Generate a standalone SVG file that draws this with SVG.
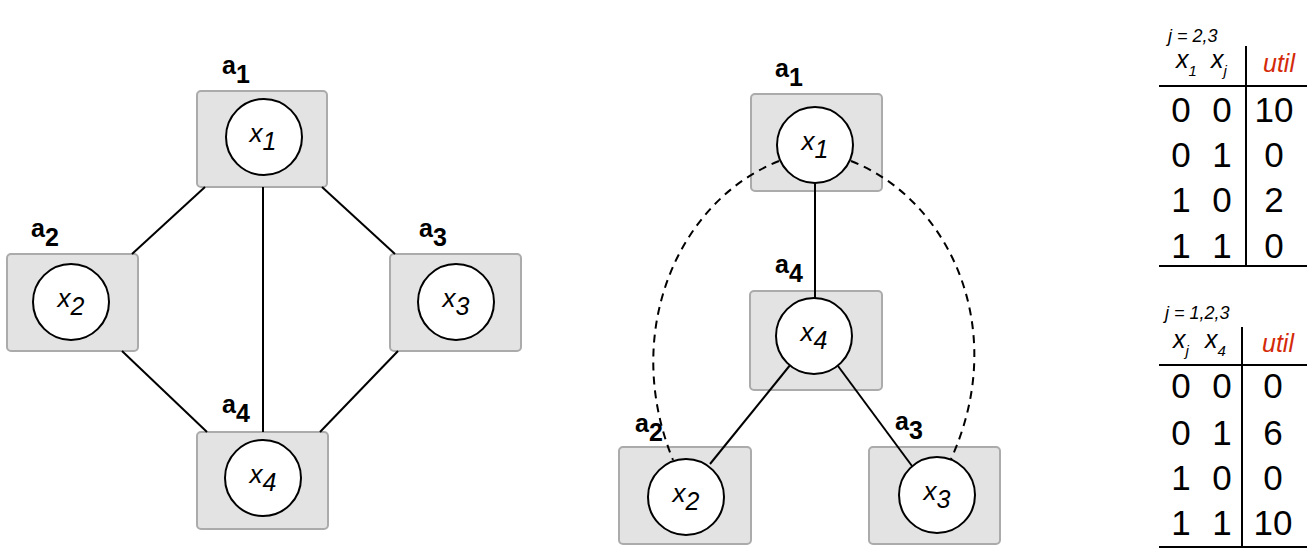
<svg xmlns="http://www.w3.org/2000/svg" width="1311" height="555" viewBox="0 0 1311 555">
<style>
.box{fill:#e3e3e3;stroke:#ababab;stroke-width:2}
.var{fill:#fff;stroke:#000;stroke-width:2}
.vt{font-family:"Liberation Sans",Arial,sans-serif;font-style:italic;font-size:26px;text-anchor:middle}
.vt tspan{font-size:25px}
.lbl{font-family:"Liberation Sans",Arial,sans-serif;font-weight:bold;font-size:25px}
.e{stroke:#000;stroke-width:2;fill:none}
.d{stroke:#000;stroke-width:2;fill:none;stroke-dasharray:8,6}
.tl{stroke:#000;stroke-width:2}
.hd{font-family:"Liberation Sans",Arial,sans-serif;font-style:italic;font-size:25px}
.hd tspan{font-size:15px}
.ju{font-family:"Liberation Sans",Arial,sans-serif;font-style:italic;font-size:18px}
.ut{font-family:"Liberation Sans",Arial,sans-serif;font-style:italic;font-size:25px;fill:#d42a0a}
.dg{font-family:"Liberation Sans",Arial,sans-serif;font-size:35px;text-anchor:middle}
</style>
<g id="L_a1">
<rect class="box" x="197" y="91" width="130" height="96" rx="4"/>
<circle class="var" cx="264" cy="137" r="38"/>
<text class="vt" x="263" y="142">x<tspan dy="8">1</tspan></text>
<text class="lbl" x="222" y="74">a<tspan dy="9">1</tspan></text>
</g>
<g id="L_a2">
<rect class="box" x="7" y="254" width="131" height="97" rx="4"/>
<circle class="var" cx="71" cy="302" r="38"/>
<text class="vt" x="71" y="307">x<tspan dy="8">2</tspan></text>
<text class="lbl" x="31" y="237">a<tspan dy="9">2</tspan></text>
</g>
<g id="L_a3">
<rect class="box" x="390" y="254" width="131" height="97" rx="4"/>
<circle class="var" cx="456" cy="302" r="38"/>
<text class="vt" x="456" y="307">x<tspan dy="8">3</tspan></text>
<text class="lbl" x="419" y="237">a<tspan dy="9">3</tspan></text>
</g>
<g id="L_a4">
<rect class="box" x="197" y="432" width="131" height="97" rx="4"/>
<circle class="var" cx="263" cy="478" r="38"/>
<text class="vt" x="263" y="483">x<tspan dy="8">4</tspan></text>
<text class="lbl" x="222" y="413">a<tspan dy="9">4</tspan></text>
</g>
<g id="R_a1">
<rect class="box" x="751" y="94" width="131" height="97" rx="4"/>
<text class="lbl" x="775" y="77">a<tspan dy="9">1</tspan></text>
</g>
<g id="R_a4">
<rect class="box" x="750" y="291" width="132" height="99" rx="4"/>
<text class="lbl" x="775" y="273">a<tspan dy="9">4</tspan></text>
</g>
<g id="R_a2">
<rect class="box" x="619" y="447" width="132" height="97" rx="4"/>
<text class="lbl" x="635" y="432">a<tspan dy="9">2</tspan></text>
</g>
<g id="R_a3">
<rect class="box" x="869" y="447" width="131" height="97" rx="4"/>
<text class="lbl" x="895" y="430">a<tspan dy="9">3</tspan></text>
</g>
<g id="connectors">
<line class="e" x1="205" y1="187" x2="132" y2="254"/>
<line class="e" x1="322" y1="187" x2="395" y2="254"/>
<line class="e" x1="263" y1="187" x2="263" y2="432"/>
<line class="e" x1="122" y1="351" x2="207" y2="432"/>
<line class="e" x1="398" y1="351" x2="320" y2="432"/>
<line class="e" x1="815" y1="183" x2="815" y2="298"/>
<line class="e" x1="791" y1="364" x2="710" y2="464"/>
<line class="e" x1="838" y1="366" x2="912" y2="466"/>
<path class="d" d="M779,161 C680,200 620,330 673,460"/>
<path class="d" d="M851,161 C950,200 1010,330 951,459"/>
</g>
<g id="R_vars">
<g id="R_x1"><circle class="var" cx="815" cy="145" r="38"/>
<text class="vt" x="815" y="150">x<tspan dy="8">1</tspan></text></g>
<g id="R_x4"><circle class="var" cx="814" cy="336" r="38"/>
<text class="vt" x="814" y="341">x<tspan dy="8">4</tspan></text></g>
<g id="R_x2"><circle class="var" cx="686" cy="497" r="38"/>
<text class="vt" x="686" y="502">x<tspan dy="8">2</tspan></text></g>
<g id="R_x3"><circle class="var" cx="937" cy="495" r="38"/>
<text class="vt" x="937" y="500">x<tspan dy="8">3</tspan></text></g>
</g>
<g id="table1">
<text class="ju" x="1168" y="42">j = 2,3</text>
<text class="hd" x="1176" y="68">x<tspan dy="8">1</tspan></text>
<text class="hd" x="1211" y="68">x<tspan dy="8">j</tspan></text>
<text class="ut" x="1263" y="72">util</text>
<line class="tl" x1="1159" y1="86" x2="1307" y2="86"/>
<line class="tl" x1="1246" y1="46" x2="1246" y2="266"/>
<line class="tl" x1="1159" y1="266" x2="1307" y2="266"/>
<text class="dg" x="1181" y="122">0</text><text class="dg" x="1222" y="122">0</text><text class="dg" x="1274" y="122">10</text>
<text class="dg" x="1181" y="167">0</text><text class="dg" x="1222" y="167">1</text><text class="dg" x="1274" y="167">0</text>
<text class="dg" x="1181" y="212">1</text><text class="dg" x="1222" y="212">0</text><text class="dg" x="1274" y="212">2</text>
<text class="dg" x="1181" y="258">1</text><text class="dg" x="1222" y="258">1</text><text class="dg" x="1274" y="258">0</text>
</g>
<g id="table2">
<text class="ju" x="1165" y="319">j = 1,2,3</text>
<text class="hd" x="1173" y="348">x<tspan dy="8">j</tspan></text>
<text class="hd" x="1205" y="348">x<tspan dy="8">4</tspan></text>
<text class="ut" x="1262" y="352">util</text>
<line class="tl" x1="1159" y1="365" x2="1307" y2="365"/>
<line class="tl" x1="1242" y1="327" x2="1242" y2="547"/>
<line class="tl" x1="1159" y1="547" x2="1307" y2="547"/>
<text class="dg" x="1181" y="398">0</text><text class="dg" x="1222" y="398">0</text><text class="dg" x="1273" y="398">0</text>
<text class="dg" x="1181" y="445">0</text><text class="dg" x="1222" y="445">1</text><text class="dg" x="1273" y="445">6</text>
<text class="dg" x="1181" y="490">1</text><text class="dg" x="1222" y="490">0</text><text class="dg" x="1273" y="490">0</text>
<text class="dg" x="1181" y="535">1</text><text class="dg" x="1222" y="535">1</text><text class="dg" x="1273" y="535">10</text>
</g>
</svg>
